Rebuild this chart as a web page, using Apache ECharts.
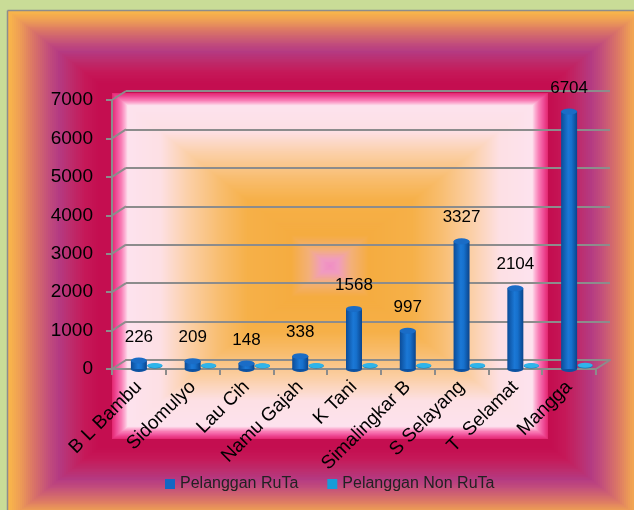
<!DOCTYPE html>
<html>
<head>
<meta charset="utf-8">
<script src="https://cdn.jsdelivr.net/npm/echarts@6/dist/echarts.min.js"></script>
<style>
  html, body { margin: 0; padding: 0; background: #c9dc97; }
  #chart { width: 634px; height: 510px; }
</style>
</head>
<body>
<div id="chart"></div>
<script>
// data
var categories = ['B L Bambu', 'Sidomulyo', 'Lau Cih', 'Namu Gajah', 'K Tani',
                  'Simalingkar B', 'S Selayang', 'T  Selamat', 'Mangga'];
var rutaValues = [226, 209, 148, 338, 1568, 997, 3327, 2104, 6704];
var nonRutaValues = [12, 10, 8, 10, 14, 12, 16, 14, 20];
var yTicks = [0, 1000, 2000, 3000, 4000, 5000, 6000, 7000];

var FONT = 'Liberation Sans';
var GRAY = '#8c8c8c';

// layout of the fake 3d box
var FRONT = { left: 112, right: 38, top: 100, bottom: 141 };
var WALL = { left: 126, right: 24, top: 91, bottom: 150 };
var BACKROW = { left: 128, right: 22, top: 97, bottom: 144 };

var chart = echarts.init(document.getElementById('chart'));

// colour helpers for the stepped rectangular gradients
function hex2rgb(h) {
    return [parseInt(h.substr(1, 2), 16), parseInt(h.substr(3, 2), 16), parseInt(h.substr(5, 2), 16)];
}
function pick(stops, t) {
    if (t <= stops[0][0]) return stops[0][1];
    for (var i = 1; i < stops.length; i++) {
        if (t <= stops[i][0]) {
            var a = stops[i - 1], b = stops[i];
            var f = (t - a[0]) / (b[0] - a[0]);
            var ca = hex2rgb(a[1]), cb = hex2rgb(b[1]);
            var c = ca.map(function (v, k) { return Math.round(v + (cb[k] - v) * f); });
            return 'rgb(' + c.join(',') + ')';
        }
    }
    return stops[stops.length - 1][1];
}

// outer chart area: orange edge -> purple -> crimson
var outerStops = [
    [0, '#f9b64a'], [10, '#efa054'], [25, '#d97268'], [40, '#c24d7c'],
    [50, '#b43a82'], [62, '#bd2c6c'], [76, '#c51858'], [90, '#c40e50']
];
// plot area: pink rim -> white pink -> orange -> pink centre
var innerStops = [
    [0, '#e42a74'], [0.02, '#f0509a'], [0.04, '#f87cb4'], [0.055, '#fcaad0'],
    [0.07, '#fde2ee'], [0.22, '#fde0e4'], [0.35, '#fbcfa6'], [0.5, '#f8bc6c'],
    [0.62, '#f6b048'], [0.82, '#f5ac40'], [0.9, '#f3b078'], [0.96, '#f09cc0'], [1, '#f08cc4']
];

function backgroundGraphics() {
    var els = [];
    var ox = 8, oy = 11, ow = 634, oh = 509;
    for (var i = 0; i <= 92; i += 2) {
        var iy = i * 0.8;
        els.push({
            type: 'rect', z: -20, silent: true,
            shape: { x: ox + i, y: oy + iy, width: ow - 2 * i, height: oh - 2 * iy },
            style: { fill: pick(outerStops, i) }
        });
    }
    var px = 112, py = 93, pw = 436, ph = 346;
    for (var j = 0; j < pw / 2; j++) {
        var t = j / (pw / 2);
        var jy = t * ph / 2;
        els.push({
            type: 'rect', z: -19, silent: true,
            shape: { x: px + j, y: py + jy, width: pw - 2 * j, height: ph - 2 * jy },
            style: { fill: pick(innerStops, t) }
        });
    }
    // grey frame of the chart area
    els.push({ type: 'line', z: -18, silent: true,
        shape: { x1: 7.5, y1: 10.5, x2: 7.5, y2: 510 }, style: { stroke: '#8d8d8d', lineWidth: 1.5 } });
    els.push({ type: 'line', z: -18, silent: true,
        shape: { x1: 7.5, y1: 10.5, x2: 634, y2: 10.5 }, style: { stroke: '#8d8d8d', lineWidth: 1.5 } });
    return els;
}

var blueBar = new echarts.graphic.LinearGradient(0, 0, 1, 0, [
    { offset: 0, color: '#0b4c98' }, { offset: 0.45, color: '#1b78d6' },
    { offset: 0.65, color: '#1670cc' }, { offset: 1, color: '#0a448c' }
]);
var cyanBar = new echarts.graphic.LinearGradient(0, 0, 1, 0, [
    { offset: 0, color: '#0c78ae' }, { offset: 0.5, color: '#2aaee4' }, { offset: 1, color: '#0c78ae' }
]);

var option = {
    backgroundColor: '#c9dc97',
    textStyle: { fontFamily: FONT },
    grid: [
        { left: FRONT.left, right: FRONT.right, top: FRONT.top, bottom: FRONT.bottom },
        { left: WALL.left, right: WALL.right, top: WALL.top, bottom: WALL.bottom },
        { left: BACKROW.left, right: BACKROW.right, top: BACKROW.top, bottom: BACKROW.bottom }
    ],
    legend: {
        data: [
            { name: 'Pelanggan RuTa', itemStyle: { color: '#1467c4' } },
            { name: 'Pelanggan Non RuTa', itemStyle: { color: '#179cd8' } }
        ],
        icon: 'rect', itemWidth: 10, itemHeight: 10, itemGap: 29,
        left: 160, top: 471,
        textStyle: { fontFamily: FONT, fontSize: 16, color: '#222' }
    },
    xAxis: [
        {
            type: 'category', gridIndex: 0, data: categories,
            axisLine: { lineStyle: { color: GRAY, width: 2 } },
            axisTick: { show: true, length: 6, lineStyle: { color: GRAY, width: 2 } },
            axisLabel: { interval: 0, rotate: 45, margin: 15, fontSize: 19, color: '#000', fontFamily: FONT }
        },
        {
            type: 'category', gridIndex: 1, data: categories,
            axisLine: { lineStyle: { color: GRAY, width: 2 } },
            axisTick: { show: false }, axisLabel: { show: false }
        },
        { type: 'category', gridIndex: 2, data: categories, show: false }
    ],
    yAxis: [
        {
            type: 'value', gridIndex: 0, min: 0, max: 7000, interval: 1000,
            axisLine: { show: true, lineStyle: { color: GRAY, width: 2 } },
            axisTick: { show: true, length: 6, lineStyle: { color: GRAY, width: 2 } },
            axisLabel: {
                margin: 19, fontSize: 19, color: '#000', fontFamily: FONT,
                formatter: function (v) { return String(v); }
            },
            splitLine: { show: false }
        },
        {
            type: 'value', gridIndex: 1, min: 0, max: 7000, interval: 1000,
            axisLine: { show: false }, axisTick: { show: false }, axisLabel: { show: false },
            splitLine: { show: true, lineStyle: { color: GRAY, width: 2 } }
        },
        { type: 'value', gridIndex: 2, min: 0, max: 7000, interval: 1000, show: false, splitLine: { show: false } }
    ],
    series: [
        {
            name: 'Pelanggan Non RuTa', type: 'bar', xAxisIndex: 2, yAxisIndex: 2,
            data: nonRutaValues, barWidth: 15, z: 3,
            itemStyle: { color: cyanBar }
        },
        {
            name: 'nonruta-top', type: 'pictorialBar', xAxisIndex: 2, yAxisIndex: 2,
            data: nonRutaValues, symbol: 'circle', symbolSize: [15, 5],
            symbolPosition: 'end', symbolOffset: [0, '-50%'], z: 4, silent: true,
            itemStyle: { color: '#2fb4ea' }
        },
        {
            name: 'nonruta-bottom', type: 'pictorialBar', xAxisIndex: 2, yAxisIndex: 2,
            data: nonRutaValues, symbol: 'circle', symbolSize: [15, 5],
            symbolPosition: 'start', symbolOffset: [0, '50%'], z: 2, silent: true,
            itemStyle: { color: '#0d7cb4' }
        },
        {
            name: 'Pelanggan RuTa', type: 'bar', xAxisIndex: 0, yAxisIndex: 0,
            data: rutaValues, barWidth: 16, z: 5,
            itemStyle: { color: blueBar },
            label: {
                show: true, position: 'top', distance: 15,
                fontSize: 17, color: '#000', fontFamily: FONT
            }
        },
        {
            name: 'ruta-top', type: 'pictorialBar', xAxisIndex: 0, yAxisIndex: 0,
            data: rutaValues, symbol: 'circle', symbolSize: [16, 6],
            symbolPosition: 'end', symbolOffset: [0, '-50%'], z: 6, silent: true,
            itemStyle: { color: '#1a6cc6', borderColor: '#0d56a8', borderWidth: 0.6 }
        },
        {
            name: 'ruta-bottom', type: 'pictorialBar', xAxisIndex: 0, yAxisIndex: 0,
            data: rutaValues, symbol: 'circle', symbolSize: [16, 6],
            symbolPosition: 'start', symbolOffset: [0, '50%'], z: 4, silent: true,
            itemStyle: { color: '#0c52a2' }
        }
    ]
};

chart.setOption(option);

// depth lines joining the front axis to the back wall, from the axis scales
var g = backgroundGraphics();
var frontRight = 634 - FRONT.right;
var wallRight = 634 - WALL.right;
yTicks.forEach(function (v) {
    var yf = chart.convertToPixel({ yAxisIndex: 0 }, v);
    var yb = chart.convertToPixel({ yAxisIndex: 1 }, v);
    g.push({
        type: 'line', z: 1, silent: true,
        shape: { x1: FRONT.left, y1: yf, x2: WALL.left, y2: yb },
        style: { stroke: GRAY, lineWidth: 2 }
    });
});
var y0f = chart.convertToPixel({ yAxisIndex: 0 }, 0);
var y0b = chart.convertToPixel({ yAxisIndex: 1 }, 0);
g.push({
    type: 'line', z: 1, silent: true,
    shape: { x1: frontRight, y1: y0f, x2: wallRight, y2: y0b },
    style: { stroke: GRAY, lineWidth: 2 }
});

chart.setOption({ graphic: g });
</script>
</body>
</html>
